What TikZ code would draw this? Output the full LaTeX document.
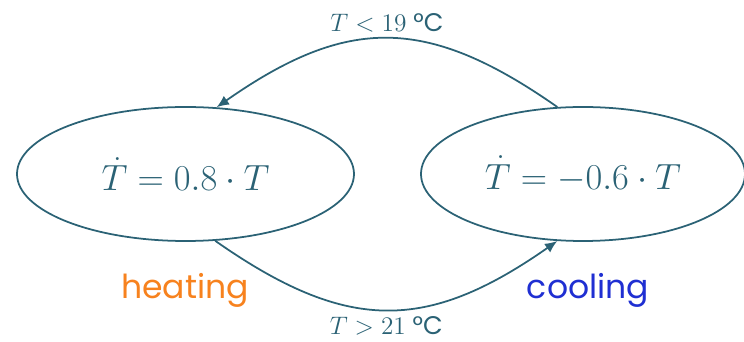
\documentclass[tikz,border=0pt]{standalone}
\usepackage[no-math]{fontspec}
\setmainfont{Poppins}
\usepackage{amsmath}
\usepackage{tikz}
\usetikzlibrary{shapes, arrows.meta, positioning, calc, shapes.geometric}

\definecolor{statecol}{HTML}{2B6275}
\definecolor{heatcol}{HTML}{F7821E}
\definecolor{coolcol}{HTML}{1F2FD2}

\begin{document}
\begin{tikzpicture}[
    >={Latex[length=7pt, width=6pt]},
    every node/.style={font=\fontsize{14.5}{16}\selectfont},
    state/.style={ellipse, draw=statecol, line width=1pt, text=statecol, minimum height=2.68cm, font=\fontsize{21}{24}\selectfont},
    switch/.style={->, line width=1pt, draw=statecol},
    modelabel/.style={font=\fontsize{18.8}{21}\selectfont}
]
\useasboundingbox (0,0) rectangle (14.88,6.84);

% Modes
\node[state, minimum width=6.74cm] (heat) at (3.71, 3.36) {$\dot{T} = 0.8 \cdot T$};
\node[state, minimum width=6.48cm] (cool) at (11.66, 3.36) {$\dot{T} = -0.6 \cdot T$};

% Switching
\draw[switch] (cool.111) to[out=145, in=35, looseness=1.2]
    node[midway, above, text=statecol] (lowlbl) {$T < 19$ °C} (heat.65);
\draw[switch] (heat.-66) to[out=-35, in=-145, looseness=1.2]
    node[midway, below, text=statecol] (highlbl) {$T > 21$ °C} (cool.-111);

% Labels
\node[modelabel, text=heatcol] (heatlbl) at (3.7, 1.04) {heating};
\node[modelabel, text=coolcol] (coollbl) at (11.76, 1.04) {cooling};

\end{tikzpicture}
\end{document}
